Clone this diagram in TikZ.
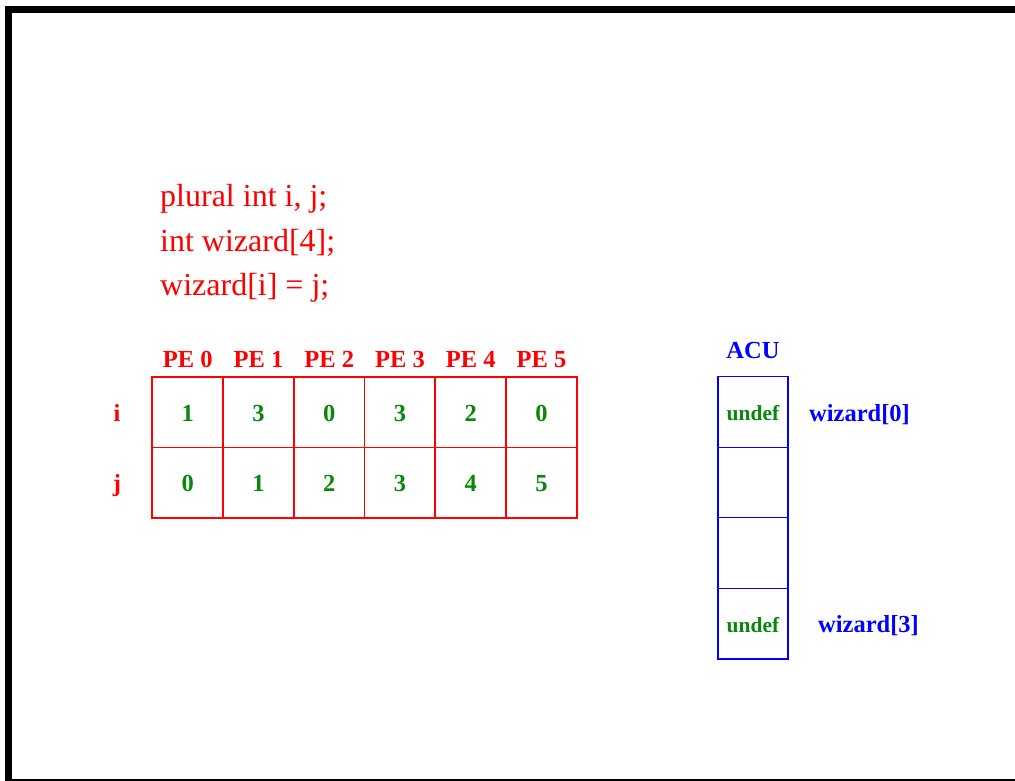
\documentclass[tikz,border=0pt]{standalone}
\usepackage{fontspec}
\setmainfont{Liberation Serif}
\definecolor{pered}{RGB}{255,0,0}
\definecolor{valgreen}{RGB}{10,135,10}
\definecolor{acublue}{RGB}{0,0,255}
\tikzset{
  code/.style={anchor=base west, inner sep=0pt, text=pered,
    font=\fontsize{32}{38}\selectfont},
  pelabel/.style={anchor=base, inner sep=0pt, text=pered,
    font=\fontsize{24.5}{29}\selectfont\bfseries},
  varlabel/.style={anchor=base, inner sep=0pt, text=pered,
    font=\fontsize{24.5}{29}\selectfont\bfseries},
  cell/.style={rectangle, inner sep=0pt, outer sep=0pt,
    minimum width=70.75pt, minimum height=70.6pt, text=valgreen,
    text height=18pt, text depth=0pt,
    font=\fontsize{24.5}{29}\selectfont\bfseries},
  acucell/.style={cell, font=\fontsize{21.5}{26}\selectfont\bfseries},
  bluelabel/.style={inner sep=0pt, text=acublue,
    font=\fontsize{24.5}{29}\selectfont\bfseries},
  gridline/.style={draw=pered, line width=1.7pt},
  innerred/.style={draw=pered, line width=1pt},
  aculine/.style={draw=acublue, line width=1.8pt},
  inneracu/.style={draw=acublue, line width=1pt},
}
\begin{document}
\begin{tikzpicture}[x=1pt,y=-1pt]
\useasboundingbox (0,0) rectangle (1015,781);
% page frame
\fill[black] (5,6) rectangle (12,781);
\fill[black] (5,6) rectangle (1015,13);
\fill[black] (5,778.5) rectangle (1015,781);

% declarations
\node[code] (l1) at (160,207) {plural int i, j;};
\node[code] (l2) at (160,251) {int wizard[4];};
\node[code] (l3) at (160,295) {wizard[i] = j;};

% plural variables i and j across the PEs
\foreach \k/\vi/\vj in {0/1/0, 1/3/1, 2/0/2, 3/3/3, 4/2/4, 5/0/5} {
  \pgfmathsetmacro{\cx}{152.3+70.75*(\k+0.5)}
  \node[cell] (i\k) at (\cx,412) {\vi};
  \node[cell] (j\k) at (\cx,482.6) {\vj};
  \node[pelabel] (pe\k) at (\cx,367.7) {PE \k};
}
\node[varlabel] (vi) at (117,421) {i};
\node[varlabel] (vj) at (117,491) {j};

% grid of the PE array
\foreach \k in {0,...,4} {
  \draw[gridline] (i\k.north east) -- (j\k.south east);
}
\draw[innerred] (i0.south west) -- (i5.south east);
\draw[gridline] (i0.north west) rectangle (j5.south east);

% wizard array in the ACU
\node[bluelabel, anchor=base] (acu) at (753,358) {ACU};
\node[acucell] (w0) at (753,411.7) {undef};
\node[acucell] (w1) at (753,482.3) {};
\node[acucell] (w2) at (753,553) {};
\node[acucell] (w3) at (753,623.7) {undef};
\foreach \k in {0,1,2} {
  \draw[inneracu] (w\k.south west) -- (w\k.south east);
}
\draw[aculine] (w0.north west) rectangle (w3.south east);
\node[bluelabel, anchor=base west] (wz0) at (809,421) {wizard[0]};
\node[bluelabel, anchor=base west] (wz3) at (818,632) {wizard[3]};
\end{tikzpicture}
\end{document}
